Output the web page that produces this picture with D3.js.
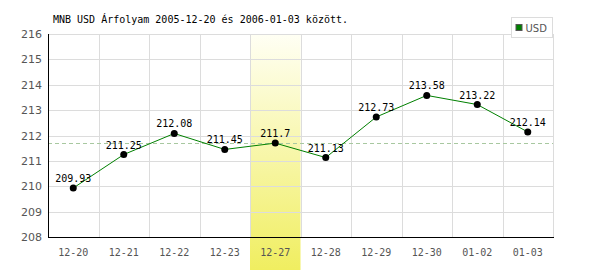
<!DOCTYPE html>
<html>
<head>
<meta charset="utf-8">
<script src="https://cdn.jsdelivr.net/npm/d3@7"></script>
<style>
  body { margin: 0; background: #fff; }
  text { font-family: "DejaVu Sans Mono", monospace; }
</style>
</head>
<body>
<div id="chart"></div>
<script>
// chart data
const dates = ["12-20", "12-21", "12-22", "12-23", "12-27", "12-28", "12-29", "12-30", "01-02", "01-03"];
const rates = [209.93, 211.25, 212.08, 211.45, 211.7, 211.13, 212.73, 213.58, 213.22, 212.14];
const yTicks = [208, 209, 210, 211, 212, 213, 214, 215, 216];
const highlightDate = "12-27";
const titleText = "MNB USD Árfolyam 2005-12-20 és 2006-01-03 között.";
const seriesName = "USD";

const width = 600, height = 270;
const margin = { top: 34, right: 47, bottom: 33, left: 48 };

const svg = d3.select("#chart").append("svg")
  .attr("width", width)
  .attr("height", height);

const x = d3.scaleBand()
  .domain(dates)
  .range([margin.left, width - margin.right]);

const y = d3.scaleLinear()
  .domain([208, 216])
  .range([height - margin.bottom, margin.top]);

// gradient for the highlighted day
const defs = svg.append("defs");
const grad = defs.append("linearGradient")
  .attr("id", "hl")
  .attr("x1", "0%").attr("y1", "0%")
  .attr("x2", "0%").attr("y2", "100%");
grad.append("stop").attr("offset", "0%").style("stop-color", "#fffff4");
grad.append("stop").attr("offset", "100%").style("stop-color", "#f0ee60");

svg.append("rect")
  .attr("x", x(highlightDate))
  .attr("y", margin.top)
  .attr("width", x.bandwidth())
  .attr("height", height - margin.top)
  .style("fill", "url(#hl)");

// grid lines
svg.append("g").selectAll("line.h")
  .data(yTicks)
  .join("line")
  .attr("x1", margin.left).attr("x2", width - margin.right)
  .attr("y1", d => Math.round(y(d)) + 0.5).attr("y2", d => Math.round(y(d)) + 0.5)
  .style("stroke", "#dcdcdc");

svg.append("g").selectAll("line.v")
  .data(dates)
  .join("line")
  .attr("x1", d => Math.round(x(d) + x.bandwidth()) + 0.5)
  .attr("x2", d => Math.round(x(d) + x.bandwidth()) + 0.5)
  .attr("y1", margin.top).attr("y2", height - margin.bottom)
  .style("stroke", "#dcdcdc");

// dashed reference line at the highlighted day's value
const hlValue = rates[dates.indexOf(highlightDate)];
svg.append("line")
  .attr("x1", margin.left).attr("x2", width - margin.right)
  .attr("y1", Math.round(y(hlValue)) + 0.5).attr("y2", Math.round(y(hlValue)) + 0.5)
  .style("stroke", "#a8c8a0")
  .style("stroke-dasharray", "4,3");

// axes
const yAxis = svg.append("g")
  .attr("transform", "translate(" + margin.left + ",0)")
  .call(d3.axisLeft(y).tickValues(yTicks).tickSize(0).tickPadding(6).tickFormat(d3.format("d")));
yAxis.select(".domain").remove();
yAxis.selectAll("text").style("fill", "#555").style("font-size", "11px")
  .style("font-family", "'DejaVu Sans', sans-serif");

const xAxis = svg.append("g")
  .attr("transform", "translate(0," + (height - margin.bottom) + ")")
  .call(d3.axisBottom(x).tickSize(0).tickPadding(12));
xAxis.select(".domain").remove();
xAxis.selectAll("text").style("fill", "#555").style("font-size", "10px");

svg.append("line")
  .attr("x1", margin.left + 0.5).attr("x2", margin.left + 0.5)
  .attr("y1", margin.top).attr("y2", height - margin.bottom + 1)
  .style("stroke", "#000");
svg.append("line")
  .attr("x1", margin.left).attr("x2", width - margin.right + 1)
  .attr("y1", height - margin.bottom + 0.5).attr("y2", height - margin.bottom + 0.5)
  .style("stroke", "#000");

// series line
const line = d3.line()
  .x((d, i) => x(dates[i]) + x.bandwidth() / 2)
  .y(d => y(d));

svg.append("path")
  .datum(rates)
  .attr("d", line)
  .style("fill", "none")
  .style("stroke", "#008000")
  .style("stroke-width", 1);

svg.append("g").selectAll("circle")
  .data(rates)
  .join("circle")
  .attr("cx", (d, i) => x(dates[i]) + x.bandwidth() / 2)
  .attr("cy", d => y(d))
  .attr("r", 3.5)
  .style("fill", "#000");

svg.append("g").selectAll("text")
  .data(rates)
  .join("text")
  .attr("x", (d, i) => x(dates[i]) + x.bandwidth() / 2)
  .attr("y", d => y(d) - 6)
  .attr("text-anchor", "middle")
  .style("font-size", "10px")
  .style("fill", "#000")
  .text(d => d);

// title
svg.append("text")
  .attr("x", 53)
  .attr("y", 23)
  .style("font-size", "10px")
  .style("fill", "#000")
  .text(titleText);

// legend
const legend = svg.append("g").attr("transform", "translate(511.5,17.5)");
legend.append("rect")
  .attr("width", 41).attr("height", 20)
  .style("fill", "#fff").style("stroke", "#dcdcdc");
legend.append("rect")
  .attr("x", 4.5).attr("y", 7).attr("width", 6).attr("height", 6)
  .style("fill", "#008000").style("stroke", "#555");
legend.append("text")
  .attr("x", 14).attr("y", 14)
  .style("font-size", "10px")
  .style("font-family", "'DejaVu Sans', sans-serif")
  .style("fill", "#555")
  .text(seriesName);
</script>
</body>
</html>
